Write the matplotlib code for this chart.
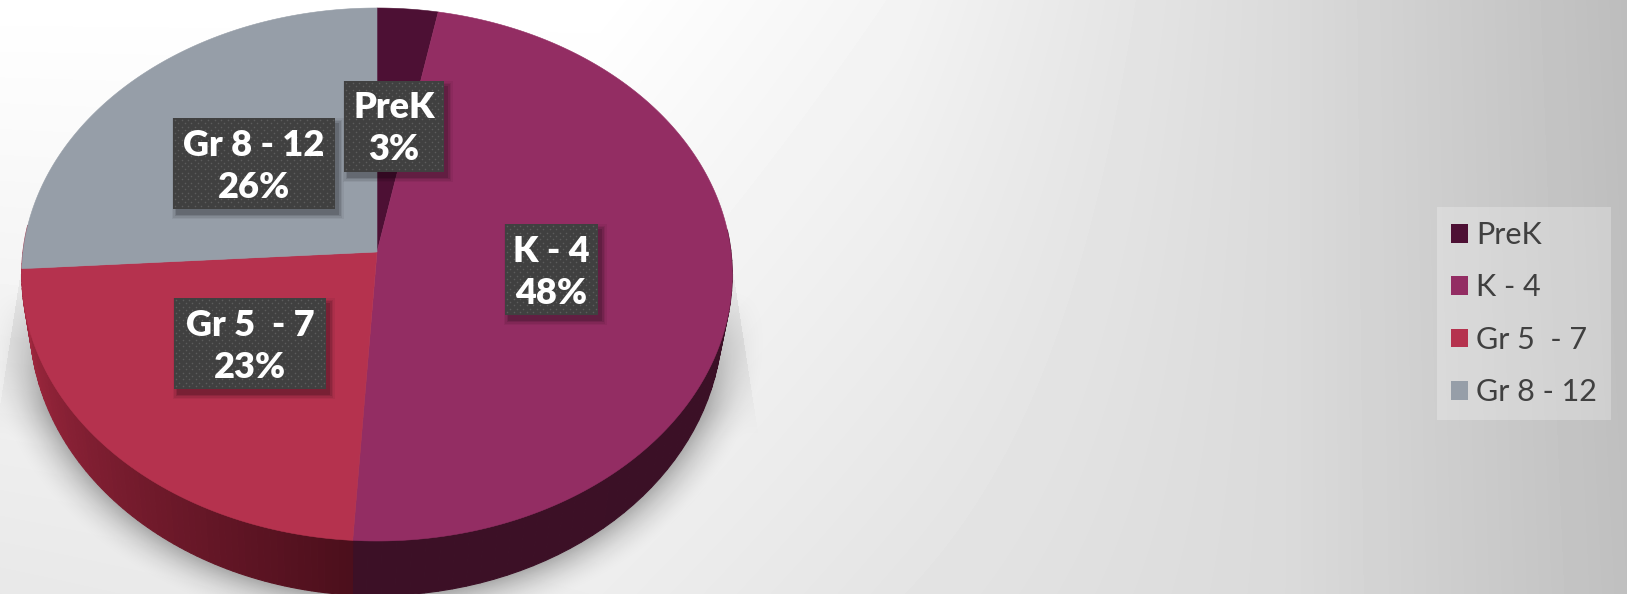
import numpy as np
import matplotlib
matplotlib.use("Agg")
import matplotlib.pyplot as plt
from matplotlib.colors import to_rgb
from matplotlib.patches import Patch, Polygon, Rectangle

categories = ["PreK", "K - 4", "Gr 5  - 7", "Gr 8 - 12"]
shares = [3, 48, 23, 26]
top_colors = ["#4d1034", "#932d63", "#b5324e", "#969ea8"]
side_from = ["#300a20", "#3a1025", "#a82a42", "#a82a42"]
side_to = ["#300a20", "#3c1026", "#4c0f1c", "#a82a42"]
label_boxes = [(344, 444, 81, 172), (505, 598, 224, 315), (174, 326, 298, 389), (173, 335, 118, 209)]

W, H = 1627, 594
TILT = 0.0844


def rim(theta, cx, apex_y, a, b):
    # perspective circle, theta clockwise from twelve o'clock
    w = 1 + TILT * np.cos(theta)
    return cx + a * np.sin(theta) / w, apex_y - b * np.cos(theta) / w


def top_rim(theta):
    return rim(theta, 377, 252, 354, 264.6)


def low_rim(theta):
    return rim(theta, 376, 297.5, 345, 273)


def blend(c1, c2, t):
    c1, c2 = np.array(to_rgb(c1)), np.array(to_rgb(c2))
    return tuple(c1 + (c2 - c1) * t)


fig = plt.figure(figsize=(W / 100, H / 100), dpi=100)
ax = fig.add_axes([0, 0, 1, 1])
ax.set_xlim(0, W)
ax.set_ylim(H, 0)
ax.axis("off")

# slide background
xx, yy = np.meshgrid(np.arange(W) + 0.5, np.arange(H) + 0.5)
base = np.interp(xx, [0, 600, 900, 1290, 1627], [1, 1, 0.955, 0.855, 0.74])
dark = np.interp(xx, [0, 900, 1290, 1627], [0.09, 0.06, 0, -0.01])
grey = base - dark * yy / H
ax.imshow(grey, cmap="gray", vmin=0, vmax=1, extent=(0, W, H, 0), aspect="auto", zorder=0)

# soft shadow under the pie
d = np.hypot((xx - 376) / 345, (yy - 320) / 275)
edge = (d - 1) * 300
soft = np.clip(1 - edge / 45, 0, 1) ** 2 * np.clip((yy - 290) / 120, 0, 1) * 0.3
half = 361 + (yy - 303) * 0.155
flare = (np.abs(xx - 377) < half) * np.clip((yy - 190) / 120, 0, 1) * np.clip((440 - yy) / 100, 0, 1) * 0.06
shadow = np.clip(soft + flare, 0, 1)
rgba = np.zeros((H, W, 4))
rgba[..., 3] = shadow
ax.imshow(rgba, extent=(0, W, H, 0), aspect="auto", zorder=1)
ax.set_xlim(0, W)
ax.set_ylim(H, 0)

edges = np.radians(np.cumsum([0] + shares) * 3.6)

# pie wall, painted in thin strips so the shading runs along the rim
for i in range(len(shares)):
    lo, hi = edges[i], edges[i + 1]
    steps = np.linspace(lo, hi, 80)
    for t0, t1 in zip(steps[:-1], steps[1:]):
        # back of the wall is hidden by the top
        if np.cos(t0) > 0.1:
            continue
        xs0, ys0 = top_rim(np.array([t0, t1]))
        xs1, ys1 = low_rim(np.array([t1, t0]))
        pts = np.column_stack([np.r_[xs0, xs1], np.r_[ys0, ys1]])
        c = blend(side_from[i], side_to[i], (t0 - lo) / (hi - lo))
        # red wall runs from dark at the bottom to bright on the left
        if categories[i] == "Gr 5  - 7":
            c = blend(side_to[i], side_from[i], (t0 - lo) / (hi - lo))
        ax.add_patch(Polygon(pts, closed=True, fc=c, ec=c, lw=0.8, zorder=2))

# pie top
for i in range(len(shares)):
    t = np.linspace(edges[i], edges[i + 1], 200)
    xs, ys = top_rim(t)
    pts = np.column_stack([np.r_[377, xs], np.r_[252, ys]])
    ax.add_patch(Polygon(pts, closed=True, fc=top_colors[i], ec=top_colors[i], lw=0.4, zorder=3))

# data labels
for name, val, (x0, x1, y0, y1) in zip(categories, shares, label_boxes):
    for grow, a in [(5, 0.05), (3.5, 0.07), (2, 0.1), (0.5, 0.14)]:
        ax.add_patch(Rectangle((x0 + 4 - grow, y0 + 5 - grow), x1 - x0 + 2 * grow, y1 - y0 + 2 * grow,
                               fc="black", ec="none", alpha=a, zorder=4))
    ax.add_patch(Rectangle((x0, y0), x1 - x0, y1 - y0, fc="#404040", ec="none", zorder=5))
    dots_x, dots_y = [], []
    for r, y in enumerate(np.arange(y0 + 2, y1, 3.3)):
        for x in np.arange(x0 + 2 + (r % 2) * 3.3, x1 - 1, 6.6):
            dots_x.append(x)
            dots_y.append(y)
    ax.scatter(dots_x, dots_y, s=1.3, c="#5c5c5c", linewidths=0, zorder=6)
    mid = (x0 + x1) / 2
    ax.text(mid, y0 + 27, name, ha="center", va="center", color="white", family="Lato",
            weight="heavy", fontsize=26, zorder=7)
    ax.text(mid, y0 + 69, f"{val}%", ha="center", va="center", color="white", family="Lato",
            weight="heavy", fontsize=26, zorder=7)

handles = [Patch(fc=c, ec="none", label=n) for c, n in zip(top_colors, categories)]
leg = ax.legend(handles=handles, loc="upper left", bbox_to_anchor=(1437, 207), bbox_transform=ax.transData,
                borderaxespad=0, borderpad=0.46, handlelength=0.56, handleheight=0.56, handletextpad=0.25,
                labelspacing=0.8, fancybox=False, framealpha=0.25, facecolor="white", edgecolor="none",
                prop={"family": "Lato", "size": 22})
leg.set_zorder(8)
for txt in leg.get_texts():
    txt.set_color("#404040")

fig.savefig("out.png", dpi=100)
